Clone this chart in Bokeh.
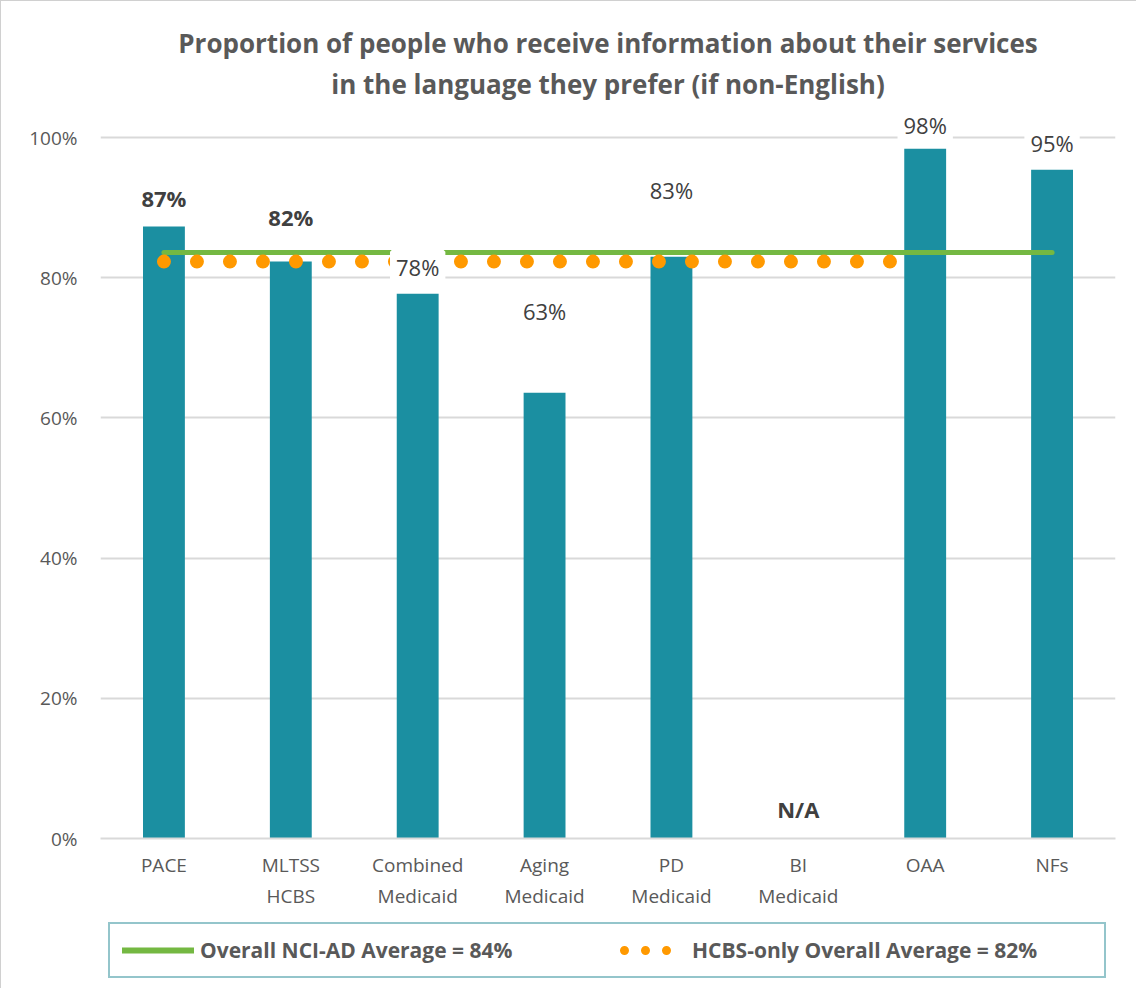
import numpy as np
from bokeh.plotting import figure
from bokeh.layouts import column
from bokeh.models import (ColumnDataSource, LabelSet, Legend, LegendItem, FixedTicker,
                          NumeralTickFormatter, Title)
from bokeh.core.properties import value
from bokeh.embed import file_html
from bokeh.resources import INLINE

# ---------------- data ----------------
categories = ["PACE", "MLTSS\nHCBS", "Combined\nMedicaid", "Aging\nMedicaid",
              "PD\nMedicaid", "BI\nMedicaid", "OAA", "NFs"]
values = [0.873, 0.823, 0.777, 0.636, 0.830, None, 0.984, 0.954]
value_labels = ["87%", "82%", "78%", "63%", "83%", "N/A", "98%", "95%"]
overall_avg = 0.836
hcbs_avg = 0.823
y_ticks = [0.0, 0.2, 0.4, 0.6, 0.8, 1.0]
title_lines = ["Proportion of people who receive information about their services",
               "in the language they prefer (if non-English)"]
legend_labels = ["Overall NCI-AD Average = 84%", "HCBS-only Overall Average = 82%"]

# ---------------- style ----------------
BAR = "#1B8FA1"
GREEN = "#74B842"
ORANGE = "#FF9900"
GREY = "#595959"
DARK = "#404040"
GRID = "#D9D9D9"
FONT = "Open Sans"
label_offsets = [29, 45, 27, 82, 67, 30, 24, 27]   # px above bar top
label_weights = ["bold", "bold", "normal", "normal", "normal", "bold", "normal", "normal"]
hcbs_end_offset = 0.79   # dotted line runs past BI

n = len(categories)
xs = np.arange(n) + 0.5
bar_tops = [v if v is not None else 0.0 for v in values]
bar_vals = [v if v is not None else np.nan for v in values]

p = figure(frame_width=1014, frame_height=728, x_range=(0, n), y_range=(0, 1.04),
           output_backend="svg", toolbar_location=None, title=None,
           min_border_left=99, min_border_right=22, min_border_top=108,
           min_border_bottom=0)

# title: first added sits closest to the plot
p.add_layout(Title(text=title_lines[1], align="center", text_font=FONT,
                   text_font_size="26px", text_font_style="bold", text_color=GREY,
                   standoff=16), "above")
p.add_layout(Title(text=title_lines[0], align="center", text_font=FONT,
                   text_font_size="26px", text_font_style="bold", text_color=GREY,
                   standoff=-10), "above")

src = ColumnDataSource(dict(x=xs, top=bar_vals, ly=bar_tops, lab=value_labels,
                            off=label_offsets, fw=label_weights))
p.vbar(x="x", top="top", width=0.33, bottom=0, source=src, fill_color=BAR,
       line_color=None)

p.line(x=[xs[0], xs[-1]], y=[overall_avg, overall_avg], line_color=GREEN,
       line_width=5, line_cap="round")
p.line(x=[xs[0], xs[5] + hcbs_end_offset], y=[hcbs_avg, hcbs_avg], line_color=ORANGE,
       line_width=14, line_cap="round", line_dash="0 33")

labels = LabelSet(x="x", y="ly", text="lab", y_offset="off", source=src,
                  text_align="center", text_baseline="middle", text_font=value(FONT),
                  text_font_size="22px", text_font_style="fw", text_color=DARK,
                  background_fill_color="white", border_line_color="white",
                  border_line_width=12)
p.add_layout(labels)

# axes
p.xaxis.ticker = FixedTicker(ticks=list(xs))
p.xaxis.major_label_overrides = {float(x): c for x, c in zip(xs, categories)}
p.xaxis.major_tick_line_color = None
p.xaxis.minor_tick_line_color = None
p.xaxis.axis_line_color = GRID
p.xaxis.axis_line_width = 2
p.xaxis.major_label_text_font = FONT
p.xaxis.major_label_text_font_size = "19px"
p.xaxis.major_label_text_color = GREY
p.xaxis.major_label_standoff = 7

p.yaxis.ticker = FixedTicker(ticks=y_ticks)
p.yaxis.formatter = NumeralTickFormatter(format="0%")
p.yaxis.major_tick_line_color = None
p.yaxis.minor_tick_line_color = None
p.yaxis.axis_line_color = None
p.yaxis.major_label_text_font = FONT
p.yaxis.major_label_text_font_size = "19px"
p.yaxis.major_label_text_color = GREY
p.yaxis.major_label_standoff = 17

p.xgrid.grid_line_color = None
p.ygrid.ticker = FixedTicker(ticks=y_ticks)
p.ygrid.grid_line_color = GRID
p.ygrid.grid_line_width = 2
p.outline_line_color = None
p.styles = {"border-left": "1px solid #D0D0D0", "border-top": "1px solid #D0D0D0"}

# ---------------- legend strip ----------------
q = figure(width=1135, height=80, output_backend="svg", toolbar_location=None,
           x_axis_location=None, y_axis_location=None, min_border=0,
           x_range=(0, 1), y_range=(0, 1))
q.grid.grid_line_color = None
q.outline_line_color = None
# legend swatches: lines kept outside the strip's visible range
g_leg = q.line(x=[-3, -2], y=[-3, -3], line_color=GREEN, line_width=6, line_cap="round")
d_leg = q.line(x=[-3, -2], y=[-3, -3], line_color=ORANGE, line_width=9, line_cap="round",
               line_dash="0 21", line_dash_offset=-10)
legend = Legend(items=[LegendItem(label=legend_labels[0], renderers=[g_leg]),
                       LegendItem(label=legend_labels[1], renderers=[d_leg])],
                orientation="horizontal", location="center",
                label_text_font=FONT, label_text_font_size="21px",
                label_text_font_style="bold", label_text_color=GREY,
                glyph_width=72, glyph_height=20, label_standoff=6, spacing=14,
                label_width=400, padding=12, margin=0, border_line_color="#2A8C97",
                border_line_width=2, label_height=24)
q.add_layout(legend, "center")
q.styles = {"border-left": "1px solid #D0D0D0"}

layout = column(p, q, spacing=0)
open("out.html", "w").write(file_html(layout, INLINE))
